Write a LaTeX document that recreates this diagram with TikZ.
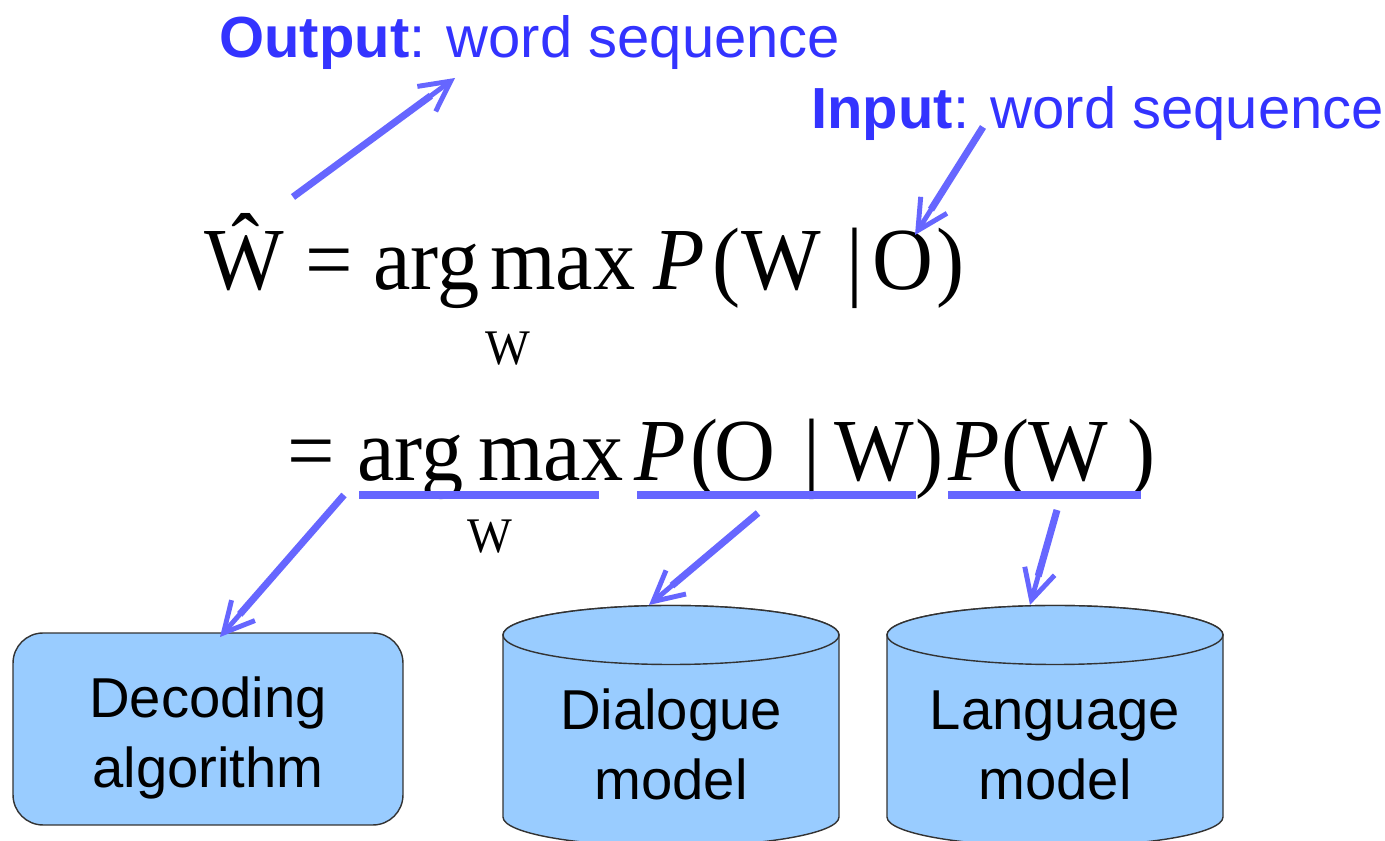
\documentclass[tikz,border=0pt]{standalone}
\usepackage{fontspec}
\setmainfont{Liberation Serif}
\newfontfamily\labelfont{Liberation Sans}
\usetikzlibrary{arrows.meta}
\usetikzlibrary{calc}
\definecolor{textblue}{HTML}{3333FF}
\definecolor{linkblue}{HTML}{6666FF}
\definecolor{storefill}{HTML}{99CCFF}
\definecolor{edgegray}{HTML}{333333}
\newcommand\eqbig{\fontsize{48}{48}\selectfont}
\newcommand\eqsmall{\fontsize{27}{27}\selectfont}
\newcommand\tall[1]{\scalebox{1}[1.05]{#1}}
\newcommand\linkto[2]{%
  \draw[link] (#1) -- ($(#2)!0.6cm!(#1)$);
  \draw[linkhead] ($(#2)!0.7cm!(#1)$) -- (#2);}

\begin{document}
\begin{tikzpicture}[x=0.02cm, y=0.02cm,
    bluecaption/.style={text=textblue, font=\labelfont\fontsize{33}{33}\selectfont, anchor=base west, inner sep=0},
    eq/.style={font=\eqbig, anchor=base west, inner sep=0},
    eqsub/.style={font=\eqsmall, anchor=base west, inner sep=0},
    underbar/.style={draw=linkblue, line width=4pt},
    link/.style={draw=linkblue, line width=4pt},
    linkhead/.style={draw=linkblue, line width=2.8pt, -{Straight Barb[length=0.6cm, width=0.62cm]}},
    procbox/.style={draw=edgegray, fill=storefill, line width=0.8pt, rounded corners=0.6cm, minimum width=7.8cm, minimum height=3.84cm},
    store/.style={draw=edgegray, fill=storefill, line width=0.8pt},
    boxtext/.style={font=\labelfont\fontsize{32}{40}\selectfont, align=center, anchor=base, inner sep=0}]
    \useasboundingbox (0,0) rectangle (1385,841);
    \clip (0,0) rectangle (1385,841);

    \node[bluecaption] (outlbl) at (219,783) {\textbf{Output}: word sequence};
    \node[bluecaption] (inlbl) at (811,712) {\textbf{Input}: word sequence};

    \foreach \x/\t/\nm in {204/Ŵ/hatw, 305/=/eqa, 373/arg/arga, 490/max/maxa, 653/\textit{P}/pa,
        712/(/lpa, 741/W/wa, 846/|/bara, 872/O/oa, 936/)/rpa}
        \node[eq] (\nm) at (\x,551) {\tall{\t}};
    \node[eqsub] (suba) at (485,476) {\tall{W}};

    \foreach \x/\t/\nm in {287/=/eqb, 357/arg/argb, 478/max/maxb, 634/\textit{P}/pb, 690/(/lpb,
        714/O/ob, 803/|/barb, 834/W/wb, 915/)/rpb, 948/\textit{P}/pc, 1001/(/lpc, 1028/W/wc, 1127/)/rpc}
        \node[eq] (\nm) at (\x,360) {\tall{\t}};
    \node[eqsub] (subb) at (467,288) {\tall{W}};

    \draw[underbar] (359,346) -- (599,346);
    \draw[underbar] (637,346) -- (916,346);
    \draw[underbar] (948,346) -- (1141,346);

    \node[procbox] (dec) at (208,112) {};
    \node[boxtext] (dectxt) at (208,53) {Decoding\\algorithm};

    \foreach \cx/\nm/\txt in {671/dlg/Dialogue, 1055/lng/Language}{
        \filldraw[store] (\cx-168,206) -- (\cx-168,24)
            arc[start angle=180, end angle=360, x radius=168, y radius=29.5]
            -- (\cx+168,206)
            arc[start angle=0, end angle=180, x radius=168, y radius=29.5] -- cycle;
        \draw[store] (\cx,206) ellipse[x radius=168, y radius=29.5];
        \node[boxtext] (\nm) at (\cx,41) {\txt\\model};
    }

    \coordinate (outfrom) at (293,644);
    \coordinate (outto) at (455,763);
    \coordinate (infrom) at (983,714);
    \coordinate (into) at (915,606);
    \coordinate (decfrom) at (344,346);
    \coordinate (decto) at (220,204);
    \coordinate (dlgfrom) at (758,328);
    \coordinate (dlgto) at (649,236);
    \coordinate (lngfrom) at (1057,331);
    \coordinate (lngto) at (1030,236);

    \linkto{outfrom}{outto}
    \linkto{infrom}{into}
    \linkto{decfrom}{decto}
    \linkto{dlgfrom}{dlgto}
    \linkto{lngfrom}{lngto}
\end{tikzpicture}
\end{document}
